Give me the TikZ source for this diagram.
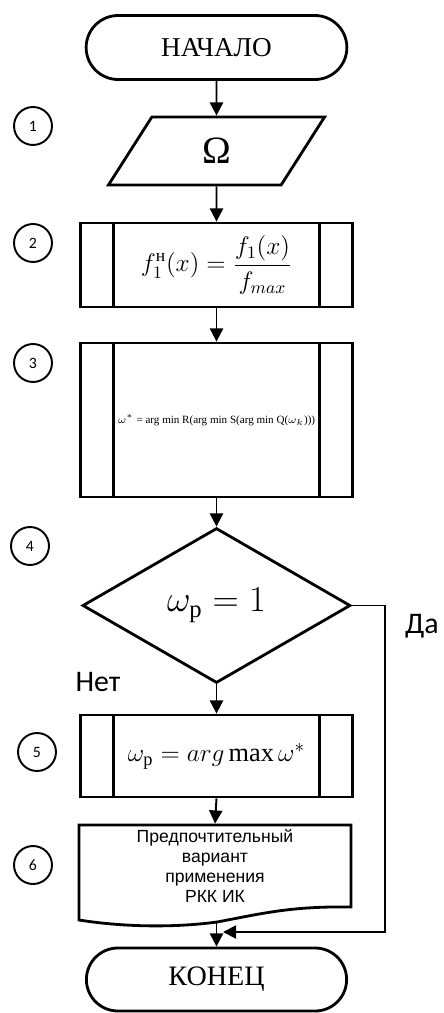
\documentclass[tikz,border=0pt]{standalone}
\usepackage{amsmath}
\usepackage{fontspec}
\setmainfont{Liberation Serif}
\newfontfamily\shriftKalibri{Carlito}
\newfontfamily\shriftArial{Liberation Sans}
\usepackage{tikz}
\usetikzlibrary{arrows.meta,calc,positioning,shapes.geometric,shapes.misc}

\begin{document}
\begin{tikzpicture}[x=0.02cm, y=-0.02cm, line width=1.6pt,
  >={Triangle[length=7.5pt,width=7.5pt]},
  terminal/.style={draw,rounded rectangle,minimum width=5.45cm,minimum height=1.28cm,
                   font=\fontsize{15.5}{18}\selectfont},
  vvod/.style={draw,trapezium,trapezium left angle=70,trapezium right angle=110,
               trapezium stretches=true,minimum width=4.34cm,minimum height=1.36cm,
               font=\fontsize{22}{26}\selectfont},
  podpr/.style={draw,rectangle,minimum width=5.44cm,inner sep=0pt},
  usl/.style={draw,diamond,aspect=1.73,minimum width=5.36cm,minimum height=3.1cm,inner sep=0pt},
  nomer/.style={draw,circle,line width=1.1pt,minimum size=0.76cm,inner sep=0pt,
                font=\shriftKalibri\fontsize{9}{11}\selectfont},
  metka/.style={font=\shriftKalibri\fontsize{17}{20}\selectfont}]
\useasboundingbox (0,0) rectangle (443,1013);
\node[terminal] (nach) at (216.5,47.5) {НАЧАЛО};
\node[vvod] (b1) at (216.5,151) {Ω};
\node[podpr,minimum height=1.68cm,font=\fontsize{14.4}{17}\selectfont] (b2) at (216.5,265)
  {$\displaystyle f_1^{\text{н}}(x)=\frac{f_1(x)}{f_{max}}$};
\node[podpr,minimum height=3.08cm,font=\fontsize{6.3}{8}\selectfont] (b3) at (216.5,420)
  {$\omega^{*}$ = arg min R(arg min S(arg min Q($\omega_{k}$)))};
\node[usl,font=\fontsize{20}{24}\selectfont] (b4) at (216.5,605.5) {$\omega_{\text{р}}=1$};
\node[podpr,minimum height=1.64cm,font=\fontsize{15}{18}\selectfont] (b5) at (216.5,756)
  {$\omega_{\text{р}}=arg\max\omega^{*}$};
\node[minimum width=5.44cm,minimum height=1.64cm,inner sep=0pt,align=center,
      font=\shriftArial\fontsize{10}{11.4}\selectfont] (b6) at (215,866)
  {Предпочтительный\\вариант\\применения\\РКК ИК};
\node[terminal,minimum width=5.44cm,minimum height=1.26cm,font=\fontsize{16}{19}\selectfont]
  (kon) at (216.5,979.5) {КОНЕЦ};
\draw (79,825) -- (351,825) -- (351,907) .. controls (290,906) and (260,914) .. (217,922)
  .. controls (180,927) and (130,928) .. (79,920) -- cycle;
\coordinate (niz) at (216.5,922);
\coordinate (vhod) at (223,932);
\foreach \n in {b2,b3,b5}
  \draw ([xshift=0.69cm]\n.north west) -- ([xshift=0.69cm]\n.south west)
        ([xshift=-0.69cm]\n.north east) -- ([xshift=-0.69cm]\n.south east);
\foreach \x/\y in {nach/b1, b1/b2, b2/b3, b3/b4, b4/b5, b5/b6, niz/kon}
  \draw[->,line width=1.1pt] (\x.south) -- (\y.north);
\draw[->,line width=1.1pt] (b4.east) -- (385,605.5) |- (vhod);
\node[metka] (da) at (422,626) {Да};
\node[metka] (net) at (98,682) {Нет};
\foreach \i/\x/\y in {1/33/126, 2/33/243, 3/33/363, 4/30/546, 5/37/752, 6/33/865}
  \node[nomer] (n\i) at (\x,\y) {\i};
\end{tikzpicture}
\end{document}
